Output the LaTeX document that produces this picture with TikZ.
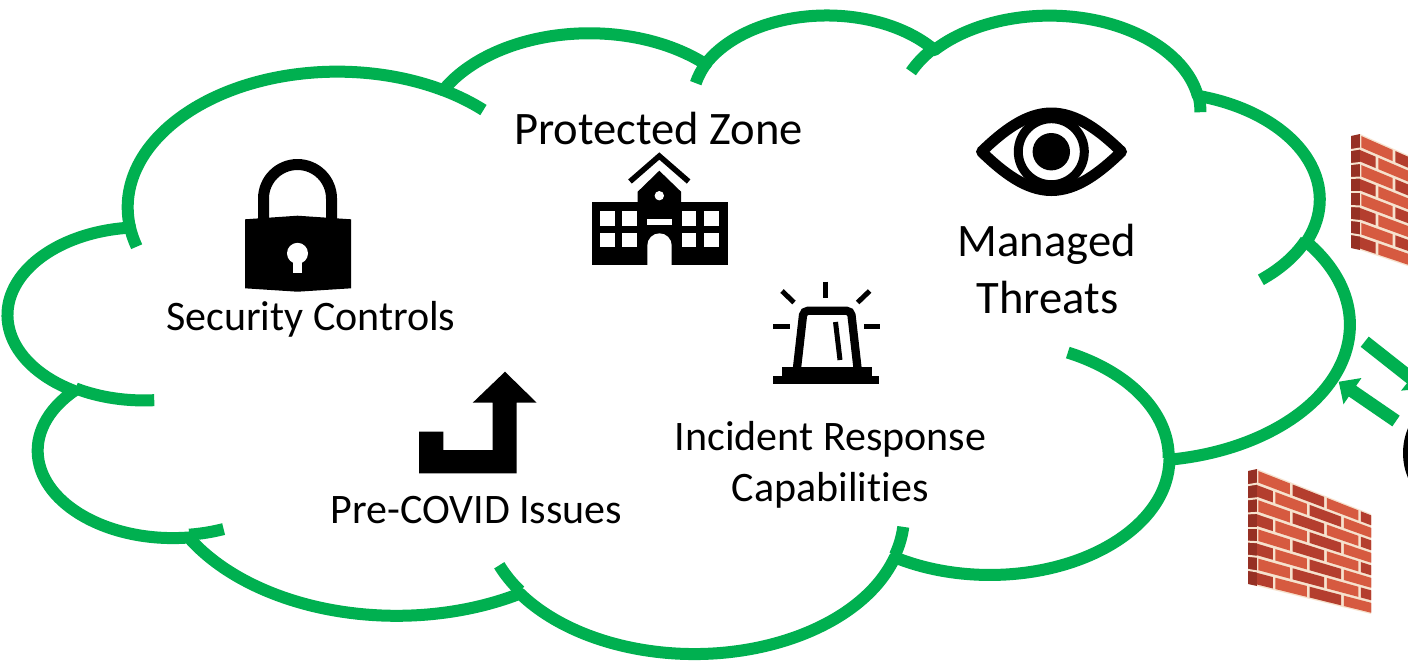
\documentclass[tikz,border=0pt]{standalone}
\usepackage{fontspec}
\setmainfont{Carlito}[Ligatures=NoCommon]
\usetikzlibrary{arrows.meta}

\newdimen\upx \upx=0.02cm
\definecolor{cloudgreen}{RGB}{0,176,80}
\definecolor{brickA}{RGB}{214,90,64}
\definecolor{brickB}{RGB}{180,62,46}
\definecolor{brickside}{RGB}{150,48,36}
\definecolor{mortar}{RGB}{246,226,206}

% elliptic arc given by radii, visual start angle and sweep (degrees)
\newcommand\cloudarc[4]{arc[x radius=#1, y radius=#2,
  start angle={atan2((#1)*sin(#3),(#2)*cos(#3))},
  delta angle={mod(atan2((#1)*sin((#3)+(#4)),(#2)*cos((#3)+(#4)))-atan2((#1)*sin(#3),(#2)*cos(#3))+720,360)}]}

% brick wall face: #1 left x, #2 top-left y, #3 width, #4 drop of top edge,
% #5 left height, #6 right height
\newcommand\brickwall[6]{%
  \fill[brickside] (#1-9,#2+2) -- (#1,#2) -- (#1,#2+#5) -- (#1-9,#2+#5-2) -- cycle;
  \foreach \r in {1,...,7}{
    \draw[mortar, line width=2\upx] (#1-9,{#2+2+(#5-4)*\r/8}) -- (#1,{#2+#5*\r/8});
  }
  \fill[mortar] (#1,#2) -- (#1+#3,#2+#4) -- (#1+#3,#2+#4+#6) -- (#1,#2+#5) -- cycle;
  \foreach \r in {0,...,7}{
    \foreach \k in {0,...,4}{
      \pgfmathsetmacro\ua{min(1,max(0,\k*0.3-mod(\r,2)*0.15+0.012))}
      \pgfmathsetmacro\ub{max(0,min(1,(\k+1)*0.3-mod(\r,2)*0.15-0.012))}
      \pgfmathsetmacro\va{\r/8+0.013}
      \pgfmathsetmacro\vb{(\r+1)/8-0.013}
      \pgfmathtruncatemacro\shade{mod(\r+\k,2)}
      \ifnum\shade=0 \def\bc{brickA}\else\def\bc{brickB}\fi
      \fill[\bc]
        ({#1+#3*\ua},{#2+#4*\ua+(#5+(#6-#5)*\ua)*\va}) --
        ({#1+#3*\ub},{#2+#4*\ub+(#5+(#6-#5)*\ub)*\va}) --
        ({#1+#3*\ub},{#2+#4*\ub+(#5+(#6-#5)*\ub)*\vb}) --
        ({#1+#3*\ua},{#2+#4*\ua+(#5+(#6-#5)*\ua)*\vb}) -- cycle;
    }
  }
}

\begin{document}
\begin{tikzpicture}[x=0.02cm, y=-0.02cm,
  cloudline/.style={draw=cloudgreen, line width=12\upx, line join=round},
  bigtext/.style={font=\fontsize{26.5pt}{32pt}\selectfont, inner sep=0pt, anchor=base},
  smalltext/.style={font=\fontsize{23.9pt}{29pt}\selectfont, inner sep=0pt, anchor=base},
  greenarrow/.style={draw=cloudgreen, line width=13\upx,
    -{Triangle[length=9.5pt, width=17.5pt]}},
]
\useasboundingbox (0,0) rectangle (1408,664);
\fill[white] (0,0) rectangle (1408,664);

% ---------- the cloud ----------
\begin{scope}[shift={(8.6,13.4)}, xscale=31.035, yscale=14.775]
  \path[fill=white, cloudline] (3.900,14.370)
    \cloudarc{6.753}{9.190}{-190.48748}{123.78053}
    \cloudarc{5.333}{7.267}{-144.10238}{89.94523}
    \cloudarc{4.365}{5.945}{-145.80792}{99.72302}
    \cloudarc{4.857}{6.595}{-130.98607}{117.24173}
    \cloudarc{5.333}{7.273}{-78.70888}{109.02692}
    \cloudarc{6.775}{9.220}{-46.26725}{130.269}
    \cloudarc{5.785}{7.867}{0.62502}{114.03333}
    \cloudarc{6.752}{9.215}{22.4516}{115.17255}
    \cloudarc{7.720}{10.543}{66.24263}{75.71102}
    \cloudarc{4.360}{5.918}{-274.94208}{146.73557}
    \cloudarc{4.345}{5.945}{-246.8285}{152.51885}
    -- cycle;
  \draw[cloudline]
    (4.693,26.177) \cloudarc{4.345}{5.945}{86.742}{26.4295}
    (6.928,34.899) \cloudarc{4.360}{5.918}{73.61047}{11.44747}
    (16.478,39.090) \cloudarc{6.752}{9.215}{137.62415}{14.0811}
    (28.827,34.751) \cloudarc{6.752}{9.215}{6.45327}{15.99835}
    (34.129,22.954) \cloudarc{5.785}{7.867}{-70.29235}{70.9174}
    (41.798,15.354) \cloudarc{5.333}{7.273}{30.31803}{27.7515}
    (38.324,5.426) \cloudarc{4.857}{6.595}{-13.74433}{14.8589}
    (29.078,3.952) \cloudarc{4.857}{6.595}{-149.18145}{18.19537}
    (22.141,4.720) \cloudarc{4.365}{5.945}{-163.49427}{17.68635}
    (14.000,5.192) \cloudarc{6.753}{9.190}{-66.70695}{12.31935}
    (4.127,15.789) \cloudarc{6.753}{9.190}{157.65435}{11.85817};
\end{scope}

% ---------- labels ----------
\node[bigtext] (zone) at (658.3,144) {Protected Zone};
\node[smalltext] (controls) at (310.8,330.7) {Security Controls};
\node[bigtext] (managed) at (1046.7,256) {Managed};
\node[bigtext] (threats) at (1047.5,313.3) {Threats};
\node[smalltext] (incident) at (830.5,450.5) {Incident Response};
\node[smalltext] (capab) at (830.3,501.7) {Capabilities};
\node[smalltext] (precovid) at (476.5,523.3) {Pre-COVID Issues};

% ---------- padlock ----------
\draw[line width=11\upx] (263.5,221) -- (263.5,198.5)
  arc[start angle=180, end angle=360, radius=34] -- (331.5,221);
\fill (245,219.3) -- (297.5,215.7) -- (351,219.3) -- (351,288.3)
  -- (297.5,291.7) -- (245,288.3) -- cycle;
\fill[white] (297.5,253.3) circle[radius=10.5];
\fill[white] (292.8,255) rectangle (302.2,273.3);

% ---------- school building ----------
\draw[line width=5.5\upx, line cap=butt, miter limit=10] (630,181.5) -- (659.3,156) -- (688.6,181.5);
\fill (659.3,170.7) -- (681,191.7) -- (681,202.5) -- (637.7,202.5) -- (637.7,191.7) -- cycle;
\fill (591.7,201.7) rectangle (727.7,265);
\fill[white] (659.3,195.7) circle[radius=4.7];
\foreach \xa/\xb in {600/615, 622.3/636.7, 681.7/696, 704/719}
  \foreach \ya/\yb in {211/226, 233.3/247.3}
    \fill[white] (\xa,\ya) rectangle (\xb,\yb);
\fill[white] (646.7,219.3) rectangle (671.7,225);
\fill[white] (647.3,266) -- (647.3,245.5) arc[start angle=180, end angle=360, radius=12.2]
  -- (671.7,266) -- cycle;

% ---------- eye ----------
\draw[line width=11\upx, line join=round] (981.5,151.7)
  .. controls (1003,131) and (1026,113) .. (1051.3,113)
  .. controls (1077,113) and (1100,131) .. (1121.5,151.7)
  .. controls (1100,172.4) and (1077,190.5) .. (1051.3,190.5)
  .. controls (1026,190.5) and (1003,172.4) .. (981.5,151.7) -- cycle;
\draw[line width=9\upx] (1051.3,151.7) circle[radius=33];
\fill (1051.3,151.7) circle[radius=18.7];

% ---------- siren ----------
\begin{scope}[line width=5\upx, line cap=butt]
  \draw (825.8,281.7) -- (825.8,298.3);
  \draw (782,291) -- (794,302.5);
  \draw (869.6,291) -- (857.6,302.5);
  \draw (773.3,326.7) -- (790,326.7);
  \draw (864,326.7) -- (880,326.7);
  \draw (835.5,322) -- (840,360);
\end{scope}
\draw[line width=8.3\upx, rounded corners=2.5pt] (797,368) -- (803.5,310.8) -- (851,310.8) -- (857.5,368);
\fill (781.7,366.7) rectangle (871.7,377);
\fill (773.3,376) rectangle (879.3,384);

% ---------- turn arrow ----------
\fill (419,431.7) -- (443.3,431.7) -- (443.3,450) -- (492.7,450) -- (492.7,402.7)
  -- (472.7,402.7) -- (505,371.7) -- (536.7,402.7) -- (516.7,402.7)
  -- (516.7,473.3) -- (419,473.3) -- cycle;

% ---------- right margin: walls, arrows ----------
\begin{scope}
  \clip (0,0) rectangle (1408,664);
  \brickwall{1360}{134}{113}{50}{116}{104}
  \brickwall{1257}{469}{114}{45}{117}{100}
  \coordinate (outA) at (1364.7,341.7);
  \coordinate (outB) at (1424,388.5);
  \coordinate (inA) at (1396,421);
  \coordinate (inB) at (1338.7,381.7);
  \draw[greenarrow] (outA) -- (outB);
  \draw[greenarrow] (inA) -- (inB);
  \draw[line width=10\upx] (1468,453) circle[radius=60];
\end{scope}
\end{tikzpicture}
\end{document}
